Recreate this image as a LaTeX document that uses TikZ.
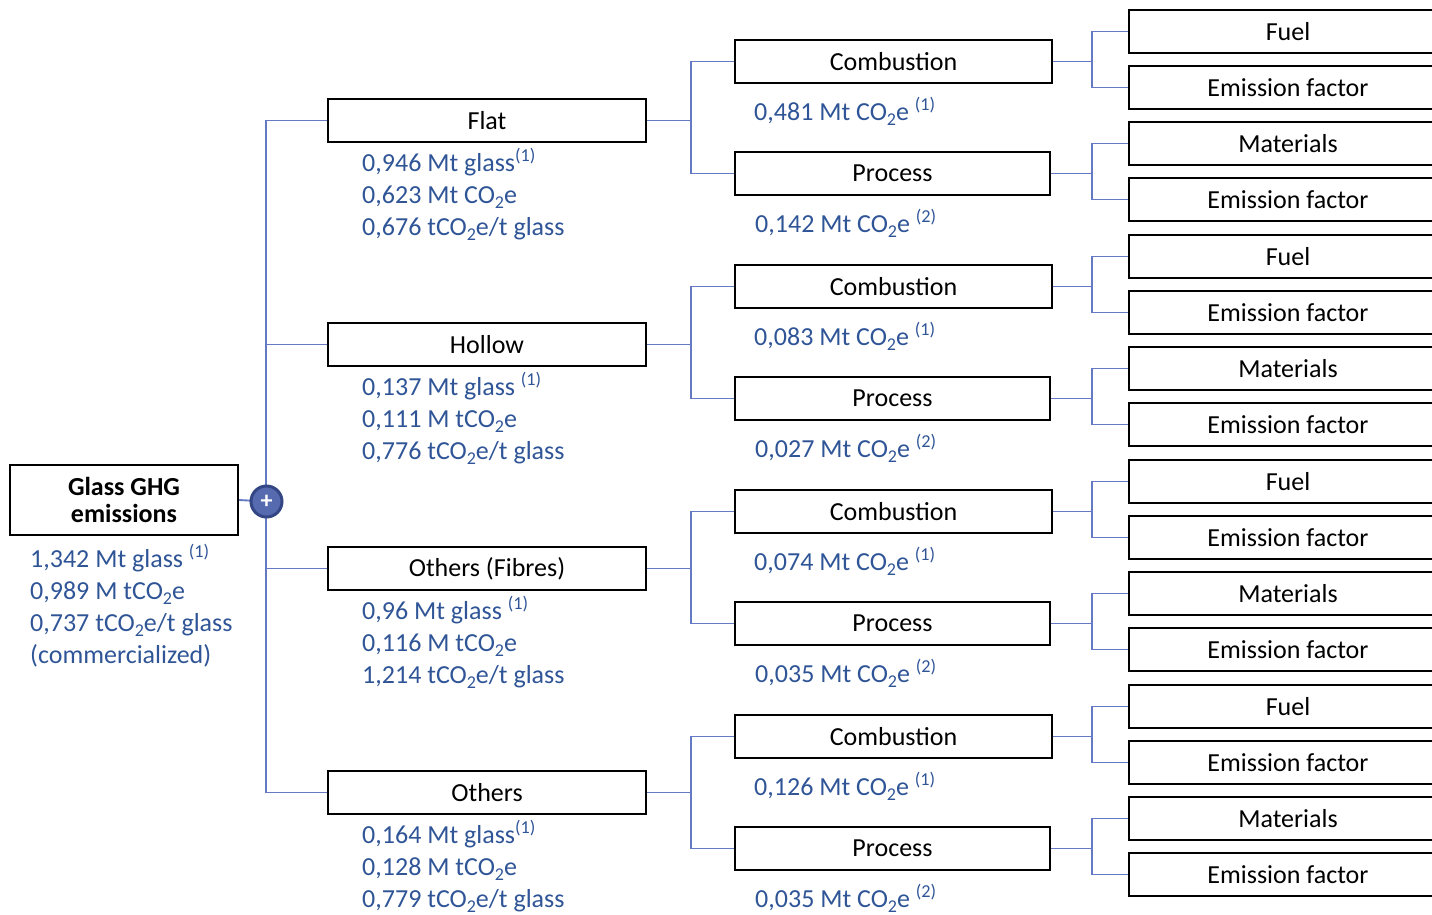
\documentclass[tikz,border=0pt]{standalone}
\usepackage{fontspec}
\setmainfont{Carlito}
\usetikzlibrary{backgrounds}
\definecolor{txtblue}{RGB}{47,85,151}
\definecolor{lineblue}{RGB}{100,122,196}
\definecolor{plusfill}{RGB}{86,106,176}
\definecolor{plusring}{RGB}{52,70,132}
\tikzset{
  box/.style={draw=black, line width=1.9pt, minimum height=43pt, inner sep=0pt, font=\fontsize{26}{32}\selectfont},
  lonebox/.style={box, minimum width=318pt},
  twobox/.style={box, minimum width=317pt},
  threebox/.style={box, minimum width=318pt},
  conn/.style={draw=lineblue, line width=1.9pt},
  info/.style={text=txtblue, font=\fontsize{26}{32}\selectfont, align=left, anchor=base west, inner sep=0pt},
}
\newcommand{\cotwo}{CO\raisebox{-0.22em}{\fontsize{18}{18}\selectfont 2}}
\begin{document}
\begin{tikzpicture}[x=1pt,y=-1pt]
\path[use as bounding box] (0,0) rectangle (1432,914);
\clip (0,0) rectangle (1432,914);

% root
\node[box, minimum width=228pt, minimum height=70pt, font=\fontsize{26}{27}\selectfont\bfseries, align=center] (root) at (124,500) {Glass GHG\\emissions};
% anchor base = baseline of the last line
\node[info] (rootinfo) at (30,663) {1,342 Mt glass \textsuperscript{(1)}\\0,989 M t\cotwo e\\0,737 t\cotwo e/t glass\\(commercialized)};
\node[circle, fill=plusfill, draw=plusring, line width=3pt, minimum size=31pt, inner sep=0pt, text=white, font=\fontsize{24}{24}\selectfont\bfseries] (plus) at (266.5,501.5) {+};

% level 1
\node[lonebox] (flat) at (487,120.5) {Flat};
\node[lonebox] (hollow) at (487,344.5) {Hollow};
\node[lonebox] (fibres) at (487,568.5) {Others (Fibres)};
\node[lonebox] (others) at (487,792.5) {Others};

\node[info] (flatinfo) at (362,235) {0,946 Mt glass\textsuperscript{(1)}\\0,623 Mt \cotwo e\\0,676 t\cotwo e/t glass};
\node[info] (hollowinfo) at (362,459) {0,137 Mt glass \textsuperscript{(1)}\\0,111 M t\cotwo e\\0,776 t\cotwo e/t glass};
\node[info] (fibresinfo) at (362,683) {0,96 Mt glass \textsuperscript{(1)}\\0,116 M t\cotwo e\\1,214 t\cotwo e/t glass};
\node[info] (othersinfo) at (362,907) {0,164 Mt glass\textsuperscript{(1)}\\0,128 M t\cotwo e\\0,779 t\cotwo e/t glass};

% level 2 and 3
\foreach \g/\ca/\pa in {0/0{,}481/0{,}142, 1/0{,}083/0{,}027, 2/0{,}074/0{,}035, 3/0{,}126/0{,}035}{
  \pgfmathsetmacro{\off}{225*\g}
  \node[twobox] (comb\g) at (893.5,61.5+\off) {Combustion};
  \node[box, minimum width=315pt] (proc\g) at (892.5,173.5+\off) {Process};
  \node[info] (combinfo\g) at (754,120+\off) {\ca\ Mt \cotwo e \textsuperscript{(1)}};
  \node[info] (procinfo\g) at (755,232+\off) {\pa\ Mt \cotwo e \textsuperscript{(2)}};
  \node[threebox] (fuel\g) at (1288,31.5+\off) {Fuel};
  \node[threebox] (efa\g) at (1288,87.5+\off) {Emission factor};
  \node[threebox] (mat\g) at (1288,143.5+\off) {Materials};
  \node[threebox] (efb\g) at (1288,199.5+\off) {Emission factor};
}

\begin{scope}[on background layer]
  \draw[conn] (root.east) -- (plus.center);
  \draw[conn] (flat.west) -- ++(-61,0) coordinate (ttop) -- (ttop |- others.west) -- (others.west);
  \draw[conn] (hollow.west) -- (hollow.west -| ttop);
  \draw[conn] (fibres.west) -- (fibres.west -| ttop);
\end{scope}

\foreach \a/\g in {flat/0, hollow/1, fibres/2, others/3}{
  \draw[conn] (\a.east) -- ++(44,0) coordinate (b\g);
  \draw[conn] (comb\g.west) -| (b\g) |- (proc\g.west);
  \draw[conn] (comb\g.east) -- ++(39,0) coordinate (c\g);
  \draw[conn] (fuel\g.west) -| (c\g) |- (efa\g.west);
  \draw[conn] (proc\g.east) -- ++(41,0) coordinate (d\g);
  \draw[conn] (mat\g.west) -| (d\g) |- (efb\g.west);
}
\end{tikzpicture}
\end{document}
